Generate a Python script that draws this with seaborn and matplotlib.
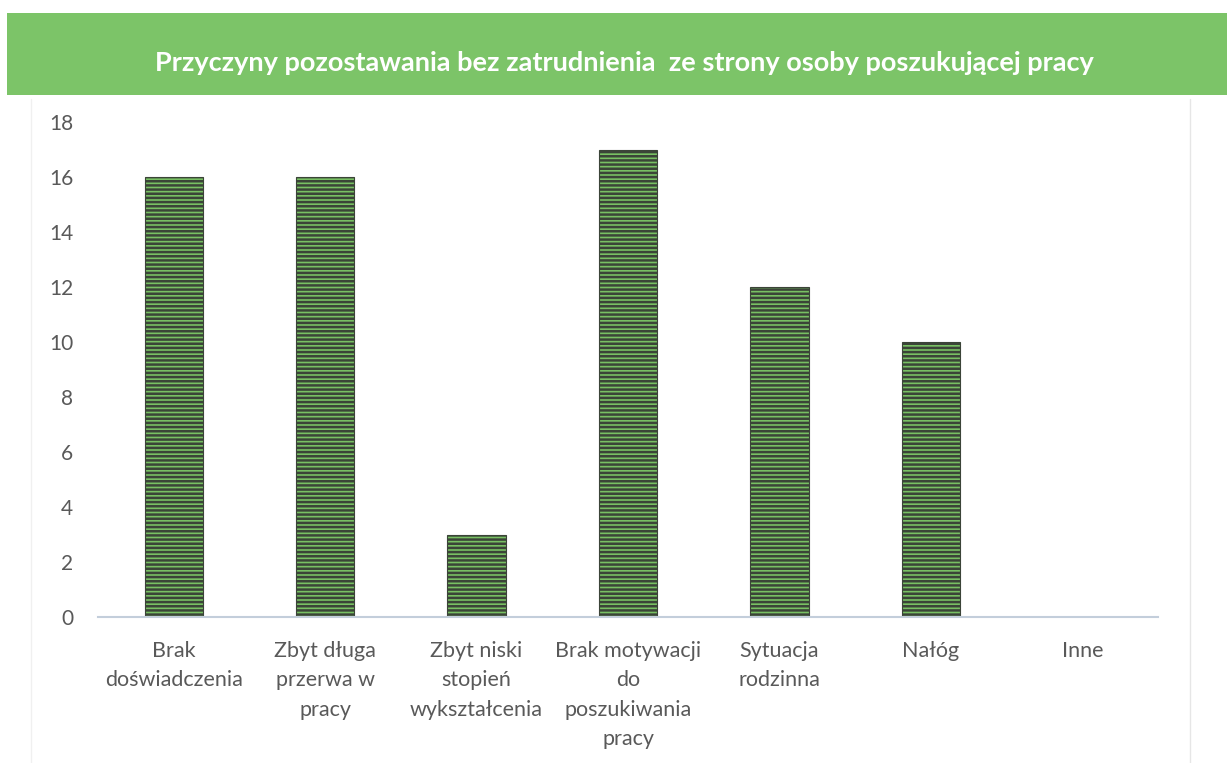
import numpy as np
import pandas as pd
import matplotlib
matplotlib.use('Agg')
import matplotlib.pyplot as plt
import seaborn as sns
from matplotlib.patches import Rectangle

# dane z wykresu
categories = ['Brak\ndoświadczenia', 'Zbyt długa\nprzerwa w\npracy', 'Zbyt niski\nstopień\nwykształcenia',
              'Brak motywacji\ndo\nposzukiwania\npracy', 'Sytuacja\nrodzinna', 'Nałóg', 'Inne']
values = [16, 16, 3, 17, 12, 10, 0]
yticks = [0, 2, 4, 6, 8, 10, 12, 14, 16, 18]
title = 'Przyczyny pozostawania bez zatrudnienia  ze strony osoby poszukującej pracy'

sns.set_style('white')
plt.rcParams['font.family'] = ['Lato', 'DejaVu Sans']
plt.rcParams['hatch.linewidth'] = 1.8

df = pd.DataFrame({'cat': categories, 'val': values})

fig = plt.figure(figsize=(12.27, 7.63), dpi=100)
ax = fig.add_axes([0.0799, 0.1913, 0.8639, 0.6488])

sns.barplot(data=df, x='cat', y='val', ax=ax, color='#78c063', saturation=1,
            width=0.385, edgecolor='#3b4438', linewidth=0.8, hatch='----')

ax.set_xlim(-0.5, 6.5)
ax.set_ylim(0, 18)
ax.set_yticks(yticks)
ax.set_xlabel('')
ax.set_ylabel('')
for s in ['top', 'right', 'left']:
    ax.spines[s].set_visible(False)
ax.spines['bottom'].set_color('#c3cedb')
ax.spines['bottom'].set_linewidth(1.5)
ax.tick_params(axis='both', length=0, colors='#595959')
ax.tick_params(axis='x', pad=17, labelsize=15.5)
ax.tick_params(axis='y', pad=18, labelsize=15)
for lab in ax.get_xticklabels():
    lab.set_linespacing(1.6)
    lab.set_verticalalignment('top')

# zielony pasek tytułu
fig.patches.append(Rectangle((0.006, 0.876), 0.994, 0.107, transform=fig.transFigure,
                             facecolor='#7cc468', edgecolor='none', zorder=0))
fig.text(0.509, 0.918, title, ha='center', va='center', color='white',
         fontsize=19.5, fontweight='bold')

# cienkie ramki wykresu
fig.add_artist(plt.Line2D([0.97, 0.97], [0.0, 0.87], color='#e6e6e6', lw=1))
fig.add_artist(plt.Line2D([0.025, 0.025], [0.0, 0.87], color='#f0f0f0', lw=1))

fig.savefig('out.png', dpi=100)
